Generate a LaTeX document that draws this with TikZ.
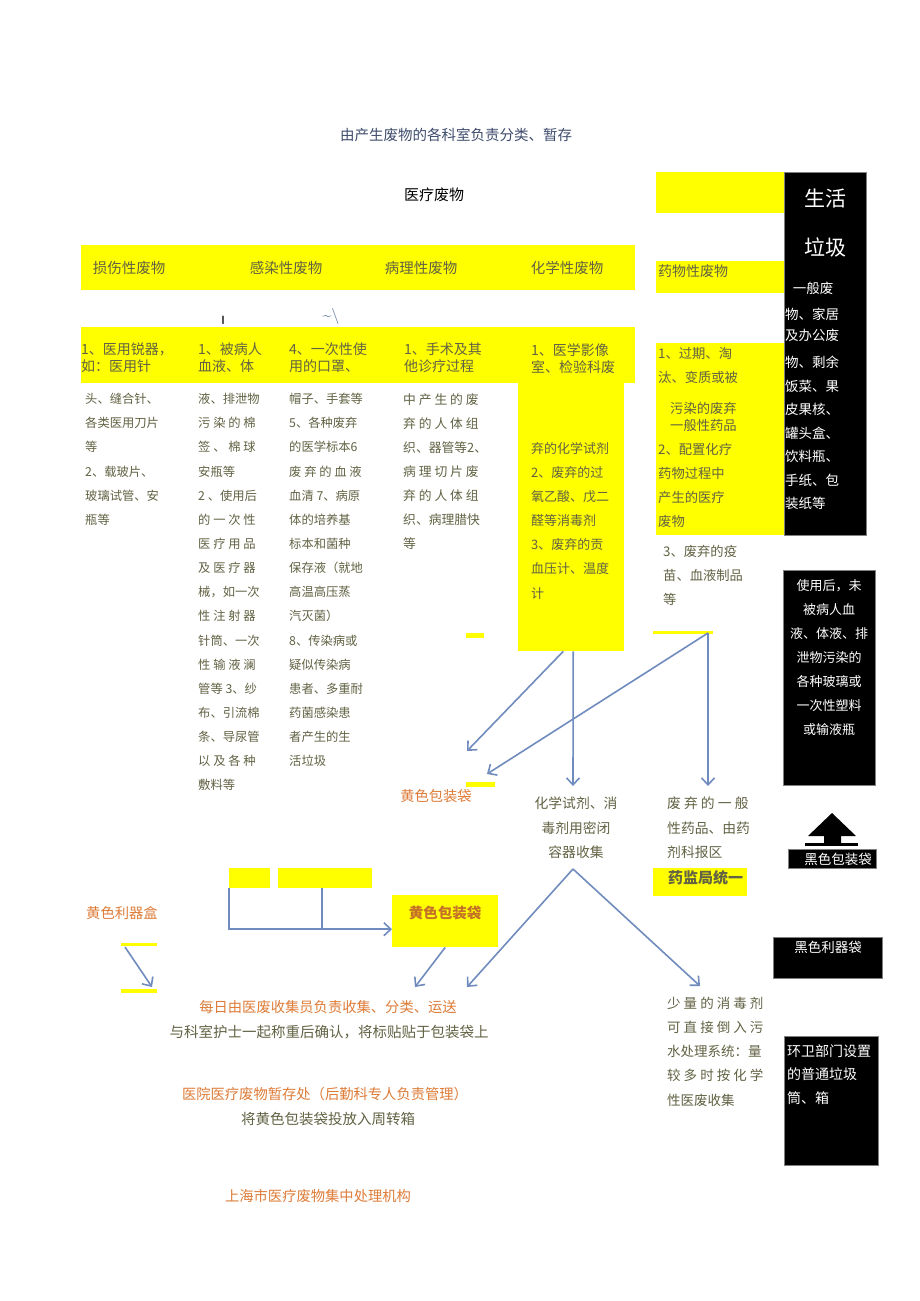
\documentclass[tikz,border=0pt]{standalone}
\usepackage{fontspec}
\setmainfont{Noto Sans CJK SC}
\usetikzlibrary{arrows.meta}
\definecolor{yel}{RGB}{255,255,0}
\definecolor{txt}{RGB}{98,98,68}
\definecolor{org}{RGB}{222,124,56}
\definecolor{dorg}{RGB}{196,112,40}
\definecolor{arr}{RGB}{112,140,190}
\definecolor{ttl}{RGB}{62,76,108}
\tikzset{
  col/.style={inner sep=0,text=txt,font=\fontsize{12.8}{24.15}\selectfont,align=left,anchor=north west},
  hd/.style={inner sep=0,text=txt,font=\fontsize{14.5}{17}\selectfont},
  band/.style={inner sep=0,text=txt,font=\fontsize{14}{17}\selectfont,align=left,anchor=north west},
  wt/.style={inner sep=0,text=white,font=\fontsize{13.5}{23.5}\selectfont,align=left,anchor=north west},
  otxt/.style={inner sep=0,text=org,font=\fontsize{14.3}{17}\selectfont},
  flow/.style={draw=arr,line width=1.6pt,-{Straight Barb[length=7pt,width=13pt,line width=1.6pt]}},
  plain/.style={draw=arr,line width=1.6pt},
  ybox/.style={fill=yel,inner sep=0,anchor=north west},
  bbox/.style={fill=black,draw=gray,inner sep=0,anchor=north west},
}
\begin{document}
\begin{tikzpicture}[x=1pt,y=-1pt]
  \fill[white] (0,0) rectangle (920,1301);
  \useasboundingbox (0,0) rectangle (920,1301);

  \node[hd,text=ttl] (title) at (456,135) {由产生废物的各科室负责分类、暂存};
  \node[hd,text=black,font=\fontsize{15}{17}\selectfont] (med) at (434,195) {医疗废物};

  \fill[yel] (81,245) rectangle (635,290);
  \node[hd] (sharp) at (129,268) {损伤性废物};
  \node[hd] (infect) at (286,268) {感染性废物};
  \node[hd] (patho) at (421,268) {病理性废物};
  \node[hd] (chemh) at (567,268) {化学性废物};

  \fill[yel] (656,172) rectangle (784,213);
  \node[bbox,minimum width=82pt,minimum height=363pt] (life) at (784,172) {};
  \node[inner sep=0,text=white,font=\fontsize{21}{24}\selectfont] (life1) at (825,199) {生活};
  \node[inner sep=0,text=white,font=\fontsize{21}{24}\selectfont] (life2) at (825,247) {垃圾};
  \node[wt,anchor=center] (life3) at (813,288) {一般废};
  \node[wt,font=\fontsize{13.5}{21}\selectfont] (life4) at (785,308) {物、家居\\及办公废};
  \node[wt] (life5) at (785,356) {物、剩余\\饭菜、果\\皮果核、\\罐头盒、\\饮料瓶、\\手纸、包\\装纸等};

  \fill[yel] (656,261) rectangle (784,293);
  \node[band,anchor=west] (drug) at (658,271) {药物性废物};
  \fill[yel] (656,343) rectangle (784,535);
  \node[col,font=\fontsize{13.3}{24}\selectfont] (drug1) at (658,347) {1、过期、淘\\汰、变质或被};
  \node[col,font=\fontsize{13.3}{17}\selectfont] (drug2) at (670,402) {污染的废弃\\一般性药品};
  \node[col,font=\fontsize{13.3}{24}\selectfont] (drug3) at (658,443) {2、配置化疗\\药物过程中\\产生的医疗\\废物};
  \node[col,font=\fontsize{13.3}{24}\selectfont] (drug4) at (663,545) {3、废弃的疫\\苗、血液制品\\等};

  \node[bbox,minimum width=92pt,minimum height=215pt] (glass) at (783,570) {};
  \node[wt,align=center,anchor=north,font=\fontsize{13}{24}\selectfont] (glasst) at (829,579) {使用后，未\\被病人血\\液、体液、排\\泄物污染的\\各种玻璃或\\一次性塑料\\或输液瓶};

  \node[inner sep=0,text=black!75,font=\sffamily\bfseries\fontsize{12}{14}\selectfont] (m1) at (223,320) {I};
  \node[inner sep=0,text=arr!80!black,font=\sffamily\fontsize{16}{18}\selectfont] (m2) at (331,316) {\textasciitilde\textbackslash};

  \fill[yel] (81,327) rectangle (635,383);
  \node[band] (b1) at (81,343) {1、医用锐器，\\如：医用针};
  \node[band] (b2) at (198,343) {1、被病人\\血液、体};
  \node[band] (b3) at (289,343) {4、一次性使\\用的口罩、};
  \node[band] (b4) at (404,343) {1、手术及其\\他诊疗过程};
  \node[band] (b5) at (531,343) {1、医学影像\\室、检验科废};

  \node[col,font=\fontsize{12.3}{24.15}\selectfont] (c1) at (85,393) {头、缝合针、\\各类医用刀片\\等\\2、载玻片、\\玻璃试管、安\\瓶等};
  \node[col,font=\fontsize{12.3}{24.15}\selectfont] (c2) at (198,393) {液、排泄物\\污 染 的 棉\\签 、 棉 球\\安瓶等\\2 、使用后\\的 一 次 性\\医 疗 用 品\\及 医 疗 器\\械，如一次\\性 注 射 器\\针筒、一次\\性 输 液 澜\\管等 3、纱\\布、引流棉\\条、导尿管\\以 及 各 种\\敷料等};
  \node[col,font=\fontsize{12.3}{24.15}\selectfont] (c3) at (289,393) {帽子、手套等\\5、各种废弃\\的医学标本6\\废 弃 的 血 液\\血清 7、病原\\体的培养基\\标本和菌种\\保存液（就地\\高温高压蒸\\汽灭菌）\\8、传染病或\\疑似传染病\\患者、多重耐\\药菌感染患\\者产生的生\\活垃圾};
  \node[col] (c4) at (403,393) {中 产 生 的 废\\弃 的 人 体 组\\织、器管等2、\\病 理 切 片 废\\弃 的 人 体 组\\织、病理腊快\\等};

  \node[ybox,minimum width=106pt,minimum height=268pt] (chem) at (518,383) {};
  \node[col,font=\fontsize{13}{24.15}\selectfont] (c5) at (531,442) {弃的化学试剂\\2、废弃的过\\氧乙酸、戊二\\醛等消毒剂\\3、废弃的贡\\血压计、温度\\计};

  \fill[yel] (466,633) rectangle (484,638);
  \fill[yel] (466,782) rectangle (495,787);
  \fill[yel] (653,631) rectangle (713,634);

  \coordinate (drugtop) at (708,633);
  \coordinate (ybag1) at (467,751);
  \coordinate (ybag2) at (487,774);
  \coordinate (chemend) at (573,786);
  \coordinate (drugend) at (708,786);
  \draw[flow] ([xshift=-8pt]chem.south) -- (ybag1);
  \draw[flow] ([xshift=2pt]chem.south) -- (chemend);
  \draw[flow] (drugtop) -- (ybag2);
  \draw[flow] (drugtop) -- (drugend);

  \node[otxt] (ybag) at (436,796) {黄色包装袋};
  \node[col,align=center,anchor=north,font=\fontsize{13.8}{24.3}\selectfont] (chemcol) at (576,797) {化学试剂、消\\毒剂用密闭\\容器收集};
  \node[col,font=\fontsize{13.8}{24.3}\selectfont] (drugcol) at (667,797) {废 弃 的 一 般\\性药品、由药\\剂科报区};

  \fill (808,836) -- (832,813) -- (856,836) -- (841,836) -- (841,844) -- (824,844) -- (824,836) -- cycle;
  \fill (805,843) rectangle (858,846);
  \node[bbox,minimum width=88pt,minimum height=19pt] (bbag) at (788,849) {};
  \node[inner sep=0,text=white,font=\fontsize{13.5}{17}\selectfont] (bbagt) at (838,859) {黑色包装袋};

  \fill[yel] (229,868) rectangle (270,888);
  \fill[yel] (278,868) rectangle (372,888);
  \node[ybox,minimum width=106pt,minimum height=52pt] (yb) at (392,895) {};
  \node[inner sep=0,text=dorg,font=\bfseries\fontsize{14.5}{17}\selectfont] (ybt) at (445,913) {黄色包装袋};
  \coordinate (ys1) at (229,888);
  \coordinate (ys2) at (322,888);
  \draw[flow] (ys1) |- ([yshift=-8pt]yb.west);
  \draw[plain] (ys2) -- (ys2 |- yb.west) -- ++(0,8);

  \fill[yel] (653,868) rectangle (747,896);
  \node[inner sep=0,text=txt,font=\bfseries\fontsize{15}{17}\selectfont,anchor=west] (fda) at (668,878) {药监局统一};

  \node[otxt,anchor=west] (sbox) at (86,913) {黄色利器盒};
  \fill[yel] (121,943) rectangle (157,946);
  \fill[yel] (121,989) rectangle (157,993);
  \coordinate (sb1) at (125,947);
  \coordinate (sb2) at (152,987);
  \draw[flow] (sb1) -- (sb2);

  \coordinate (apex) at (573,869);
  \coordinate (col1) at (415,987);
  \coordinate (col2) at (467,987);
  \coordinate (sew) at (700,986);
  \draw[flow] (yb.south) -- (col1);
  \draw[flow] (apex) -- (col2);
  \draw[flow] (apex) -- (sew);

  \node[bbox,minimum width=109pt,minimum height=41pt] (bsharp) at (773,937) {};
  \node[inner sep=0,text=white,font=\fontsize{13.5}{17}\selectfont] (bsharpt) at (828,947) {黑色利器袋};

  \node[otxt] (daily) at (328,1007) {每日由医废收集员负责收集、分类、运送};
  \node[hd] (weigh) at (329,1032) {与科室护士一起称重后确认，将标贴贴于包装袋上};

  \node[col,font=\fontsize{13.5}{24.1}\selectfont] (sewt) at (667,997) {少 量 的 消 毒 剂\\可 直 接 倒 入 污\\水处理系统：量\\较 多 时 按 化 学\\性医废收集};

  \node[bbox,minimum width=94pt,minimum height=129pt] (env) at (784,1036) {};
  \node[wt,font=\fontsize{14}{23.5}\selectfont] (envt) at (787,1044) {环卫部门设置\\的普通垃圾\\筒、箱};

  \node[otxt] (store) at (325,1094) {医院医疗废物暂存处（后勤科专人负责管理）};
  \node[hd] (turn) at (328,1119) {将黄色包装袋投放入周转箱};
  \node[otxt] (center) at (318,1196) {上海市医疗废物集中处理机构};
\end{tikzpicture}
\end{document}
